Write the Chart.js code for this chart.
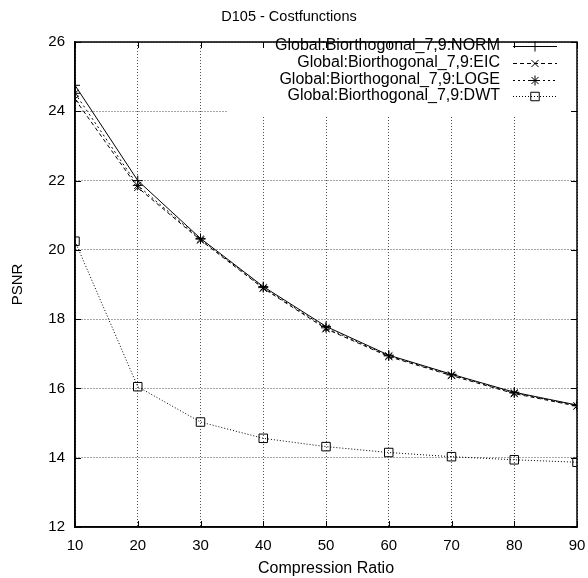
<!DOCTYPE html>
<html>
<head>
<meta charset="utf-8">
<script src="https://cdn.jsdelivr.net/npm/chart.js@4/dist/chart.umd.min.js"></script>
<style>
  html, body { margin: 0; padding: 0; background: #fff; }
  #wrap { width: 588px; height: 578px; }
</style>
</head>
<body>
<div id="wrap"><canvas id="chart" width="588" height="578"></canvas></div>
<script>
// compression ratios on the x axis
const ratios = [10, 20, 30, 40, 50, 60, 70, 80, 90];

// PSNR per cost function
const norm = [24.75, 22.00, 20.33, 18.94, 17.79, 16.96, 16.41, 15.89, 15.52];
const eic  = [24.35, 21.80, 20.28, 18.89, 17.72, 16.92, 16.37, 15.85, 15.49];
const loge = [24.52, 21.86, 20.31, 18.91, 17.75, 16.94, 16.39, 15.87, 15.50];
const dwt  = [20.25, 16.05, 15.03, 14.56, 14.32, 14.15, 14.03, 13.94, 13.87];

const seriesNames = [
  'Global:Biorthogonal_7,9:NORM',
  'Global:Biorthogonal_7,9:EIC',
  'Global:Biorthogonal_7,9:LOGE',
  'Global:Biorthogonal_7,9:DWT'
];

const FONT = 'Liberation Sans, Arial, Helvetica, sans-serif';

const styles = [
  { dash: [], point: 'cross', radius: 5 },
  { dash: [4, 3], point: 'crossRot', radius: 5 },
  { dash: [2, 3], point: 'star', radius: 5 },
  { dash: [1, 2], point: 'rect', radius: 6 }
];

function pts(vals) {
  return ratios.map((r, i) => ({ x: r, y: vals[i] }));
}

const datasets = [norm, eic, loge, dwt].map((vals, i) => ({
  label: seriesNames[i],
  data: pts(vals),
  borderColor: '#000',
  borderWidth: 1,
  borderDash: styles[i].dash,
  pointStyle: styles[i].point,
  pointRadius: styles[i].radius,
  pointBorderColor: '#000',
  pointBackgroundColor: 'rgba(0,0,0,0)',
  pointBorderWidth: 1,
  tension: 0
}));

// gnuplot style extras: title, box border, inward ticks, legend box
const gnuplotBits = {
  id: 'gnuplotBits',
  beforeDatasetsDraw(chart) {
    const ctx = chart.ctx;
    const a = chart.chartArea;
    // legend area hides the grid behind it
    ctx.save();
    ctx.fillStyle = '#fff';
    ctx.fillRect(228, a.top + 1, a.right - 228 - 1, 114 - a.top);
    ctx.restore();
  },
  afterDatasetsDraw(chart) {
    const ctx = chart.ctx;
    const a = chart.chartArea;
    const xs = chart.scales.x, ys = chart.scales.y;
    ctx.save();
    // border
    ctx.strokeStyle = '#000';
    ctx.lineWidth = 1.5;
    ctx.strokeRect(a.left, a.top, a.right - a.left, a.bottom - a.top);
    // inward ticks
    ctx.lineWidth = 1;
    ctx.beginPath();
    xs.ticks.forEach(t => {
      const px = Math.round(xs.getPixelForValue(t.value)) + 0.5;
      ctx.moveTo(px, a.bottom); ctx.lineTo(px, a.bottom - 6);
      ctx.moveTo(px, a.top); ctx.lineTo(px, a.top + 6);
    });
    ys.ticks.forEach(t => {
      const py = Math.round(ys.getPixelForValue(t.value)) + 0.5;
      ctx.moveTo(a.left, py); ctx.lineTo(a.left + 6, py);
      ctx.moveTo(a.right, py); ctx.lineTo(a.right - 6, py);
    });
    ctx.stroke();

    // title
    ctx.fillStyle = '#000';
    ctx.font = '14.5px ' + FONT;
    ctx.textAlign = 'center';
    ctx.textBaseline = 'middle';
    ctx.fillText('D105 - Costfunctions', 289, 17);

    // legend
    ctx.font = '16px ' + FONT;
    ctx.textAlign = 'right';
    const rowY = [46, 63, 80, 96];
    chart.data.datasets.forEach((ds, i) => {
      const y = rowY[i];
      ctx.fillStyle = '#000';
      ctx.fillText(ds.label, 500, y);
      ctx.beginPath();
      ctx.setLineDash(ds.borderDash);
      ctx.lineWidth = 1;
      ctx.moveTo(513, y + 0.5);
      ctx.lineTo(557, y + 0.5);
      ctx.stroke();
      ctx.setLineDash([]);
      ctx.fillStyle = 'rgba(0,0,0,0)';
      ctx.strokeStyle = '#000';
      Chart.helpers.drawPoint(ctx, {
        pointStyle: ds.pointStyle,
        radius: ds.pointRadius,
        rotation: 0,
        borderWidth: 1
      }, 535, y + 0.5);
    });
    ctx.restore();
  }
};

const gridOpts = {
  color: 'rgba(0,0,0,0.7)',
  lineWidth: 1,
  drawTicks: false
};

new Chart(document.getElementById('chart'), {
  type: 'line',
  data: { datasets },
  options: {
    responsive: false,
    animation: false,
    layout: { padding: { top: 42, right: 11, left: 0, bottom: 0 } },
    plugins: {
      legend: { display: false },
      title: { display: false },
      tooltip: { enabled: false }
    },
    scales: {
      x: {
        type: 'linear',
        min: 10,
        max: 90,
        ticks: { stepSize: 10, color: '#000', padding: 10, font: { family: FONT, size: 15 } },
        grid: gridOpts,
        border: { display: true, color: '#000', width: 1.5, dash: [1, 2] },
        title: {
          display: true, text: 'Compression Ratio', color: '#000',
          font: { family: FONT, size: 16 }, padding: { top: 0, bottom: 0 }
        },
        afterFit(scale) {
          scale.height = 51;
          scale.paddingLeft = 0;
          scale.paddingRight = 0;
        }
      },
      y: {
        min: 12,
        max: 26,
        ticks: { stepSize: 2, color: '#000', padding: 10, font: { family: FONT, size: 15 } },
        grid: gridOpts,
        border: { display: true, color: '#000', width: 1.5, dash: [1, 2] },
        title: {
          display: true, text: 'PSNR', color: '#000',
          font: { family: FONT, size: 15 }, padding: { top: 9, bottom: 0 }
        },
        afterFit(scale) {
          scale.width = 75;
          scale.paddingTop = 0;
          scale.paddingBottom = 0;
        }
      }
    }
  },
  plugins: [gnuplotBits]
});
</script>
</body>
</html>
